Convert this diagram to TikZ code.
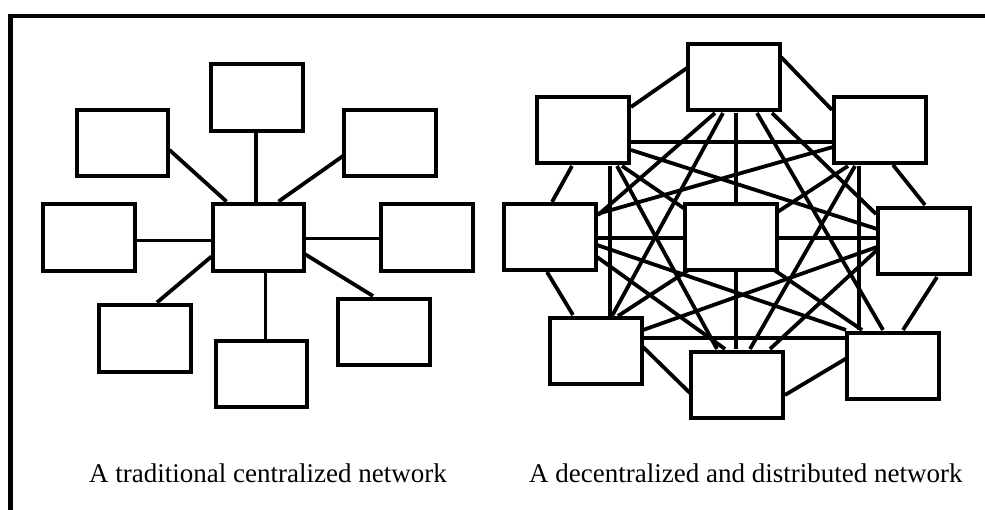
\documentclass[tikz,border=0pt]{standalone}
\usepackage{fontspec}
\setmainfont{Liberation Serif}
\pgfdeclarelayer{background}
\pgfsetlayers{background,main}
\begin{document}
\begin{tikzpicture}[x=1pt,y=-1pt,
  box/.style={draw,fill=white,line width=4.4pt,minimum width=91.5pt,minimum height=66.5pt,inner sep=0pt,outer sep=0pt},
  link/.style={line width=3.8pt},
  frame/.style={line width=4.8pt,line join=miter},
  caption/.style={anchor=base west,inner sep=0pt,font=\fontsize{27}{32}\selectfont}]
\useasboundingbox (0,0) rectangle (985,510);
% frame
\draw[frame] (10.5,520) -- (10.5,16) -- (995,16);
% ---------- left: centralized ----------
\node[box] (top) at (257,97.5) {};
\node[box] (ul)  at (122.5,143) {};
\node[box] (ur)  at (390,143) {};
\node[box] (l)   at (89,237.5) {};
\node[box] (c)   at (258.5,237.5) {};
\node[box] (r)   at (427,237.5) {};
\node[box] (ll)  at (145,338.5) {};
\node[box] (b)   at (261.5,374) {};
\node[box] (lr)  at (384,332) {};
% ---------- right: distributed ----------
\node[box] (T)  at (734,77) {};
\node[box] (UL) at (583,130) {};
\node[box] (UR) at (880,130) {};
\node[box] (L)  at (550,237) {};
\node[box] (C)  at (731,237) {};
\node[box] (R)  at (924,241) {};
\node[box] (LL) at (596,351) {};
\node[box] (B)  at (737,385) {};
\node[box] (LR) at (893,366) {};
% captions
\node[caption] (cap1) at (89,482) {A traditional centralized network};
\node[caption] (cap2) at (529,482) {A decentralized and distributed network};
\begin{pgfonlayer}{background}
% left links
\draw[link] ([shift={(-1,33.5)}]top.center) -- ([shift={(-2.5,-33.5)}]c.center);
\draw[link] ([shift={(47,7)}]ul.center) -- ([shift={(-32,-36)}]c.center);
\draw[link] ([shift={(-47,13)}]ur.center) -- ([shift={(20,-36)}]c.center);
\draw[link] ([shift={(46,3)}]l.center) -- ([shift={(-46,3)}]c.center);
\draw[link] ([shift={(47,1)}]c.center) -- ([shift={(-47,1)}]r.center);
\draw[link] ([shift={(12,-36)}]ll.center) -- ([shift={(-47,19)}]c.center);
\draw[link] ([shift={(7,33.5)}]c.center) -- ([shift={(4,-35)}]b.center);
\draw[link] ([shift={(47,17)}]c.center) -- ([shift={(-11,-36)}]lr.center);
% right links: ring
\draw[link] ([shift={(-47,-9)}]T.center) -- ([shift={(48,-23)}]UL.center);
\draw[link] ([shift={(47,-20)}]T.center) -- ([shift={(-48,-20)}]UR.center);
\draw[link] ([shift={(-11,36)}]UL.center) -- ([shift={(2,-35)}]L.center);
\draw[link] ([shift={(13,35)}]UR.center) -- ([shift={(1,-36)}]R.center);
\draw[link] ([shift={(-3,35)}]L.center) -- ([shift={(-23,-36)}]LL.center);
\draw[link] ([shift={(13,36)}]R.center) -- ([shift={(10,-36)}]LR.center);
\draw[link] ([shift={(47,-4)}]LL.center) -- ([shift={(-45,10)}]B.center);
\draw[link] ([shift={(-46,-8)}]LR.center) -- ([shift={(48,10)}]B.center);
% right links: straight chords
\draw[link] ([shift={(47,12)}]UL.center) -- ([shift={(-48,12)}]UR.center);
\draw[link] ([shift={(47,-13)}]LL.center) -- ([shift={(-47,-28)}]LR.center);
\draw[link] ([shift={(27,36)}]UL.center) -- ([shift={(14,-35)}]LL.center);
\draw[link] ([shift={(-21,36)}]UR.center) -- ([shift={(-34,-36)}]LR.center);
\draw[link] ([shift={(2,36)}]T.center) -- ([shift={(-1,-36)}]B.center);
\draw[link] ([shift={(47,1)}]L.center) -- ([shift={(-48,-3)}]R.center);
% right links: diagonals
\draw[link] ([shift={(48,20)}]UL.center) -- ([shift={(-47,-12)}]R.center);
\draw[link] ([shift={(-19,36)}]T.center) -- ([shift={(48,-22)}]L.center);
\draw[link] ([shift={(-11,36)}]T.center) -- ([shift={(16,-35)}]LL.center);
\draw[link] ([shift={(34,36)}]UL.center) -- ([shift={(-20,-36)}]B.center);
\draw[link] ([shift={(38,36)}]T.center) -- ([shift={(-48,-27)}]R.center);
\draw[link] ([shift={(23,36)}]T.center) -- ([shift={(-10,-36)}]LR.center);
\draw[link] ([shift={(-47,17)}]UR.center) -- ([shift={(47,-23)}]L.center);
\draw[link] ([shift={(-32,36)}]UR.center) -- ([shift={(22,-35)}]LL.center);
\draw[link] ([shift={(-25,36)}]UR.center) -- ([shift={(13,-36)}]B.center);
\draw[link] ([shift={(-47,6)}]R.center) -- ([shift={(47,-21)}]LL.center);
\draw[link] ([shift={(-47,9)}]R.center) -- ([shift={(33,-36)}]B.center);
\draw[link] ([shift={(47,8)}]L.center) -- ([shift={(-47,-36)}]LR.center);
\draw[link] ([shift={(47,20)}]L.center) -- ([shift={(-12,-36)}]B.center);
\draw[link] ([shift={(39,36)}]UL.center) -- ([shift={(-31,-36)}]LR.center);
\end{pgfonlayer}
\end{tikzpicture}
\end{document}
